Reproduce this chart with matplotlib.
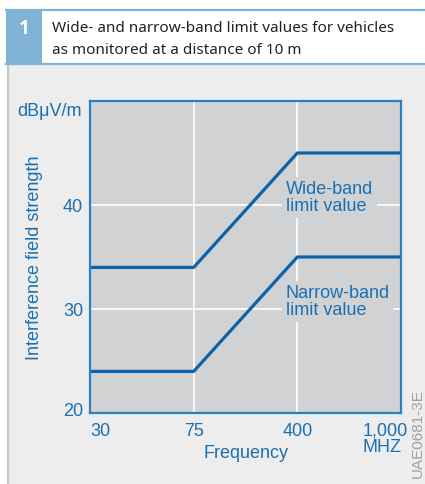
import matplotlib
matplotlib.use("Agg")
import matplotlib.pyplot as plt
from matplotlib.patches import Rectangle
from matplotlib.lines import Line2D
import matplotlib.transforms as mtransforms

# ---- data ----
freq_labels = ["30", "75", "400", "1,000"]
wide_band = [34, 34, 45, 45]
narrow_band = [24, 24, 35, 35]
y_ticks = [20, 30, 40]
y_limits = [20, 50]

title_num = "1"
title_text = "Wide- and narrow-band limit values for vehicles\nas monitored at a distance of 10 m"

W, H = 425, 484
fig = plt.figure(figsize=(W / 100, H / 100), dpi=100)
fig.patch.set_facecolor("white")

def fx(px):
    return px / W

def fy(py):
    return 1 - py / H

HEAD_BLUE = "#7fb2d5"
PANEL = "#ededed"
PLOT_BG = "#d1d2d4"
TXT = "#1a70b3"
LINE = "#0e63a8"
SPINE = "#2d80c0"

# panel background
fig.patches.append(Rectangle((fx(7), 0), 1 - fx(7), fy(65), transform=fig.transFigure,
                             facecolor=PANEL, edgecolor="none", zorder=-5))
# left gray border
fig.lines.append(Line2D([fx(7.5), fx(7.5)], [0, fy(65)], transform=fig.transFigure,
                        color="#c6c6c6", lw=1.6, zorder=-4))
# header lines
fig.lines.append(Line2D([fx(6), 1], [fy(9.5), fy(9.5)], transform=fig.transFigure,
                        color=HEAD_BLUE, lw=1.6, zorder=-4))
fig.lines.append(Line2D([fx(6), 1], [fy(64), fy(64)], transform=fig.transFigure,
                        color=HEAD_BLUE, lw=1.6, zorder=-4))
# number box
fig.patches.append(Rectangle((fx(6), fy(64)), fx(42) - fx(6), fy(9) - fy(64),
                             transform=fig.transFigure, facecolor=HEAD_BLUE,
                             edgecolor="none", zorder=-4))
fig.text(fx(24), fy(29), title_num, color="white", fontsize=13.5, fontweight="bold",
         ha="center", va="center", family="Open Sans")
fig.text(fx(52), fy(39.5), title_text, color="#222222", fontsize=11,
         ha="left", va="center", family="Noto Sans", linespacing=1.6)

# axes
ax = fig.add_axes([fx(90), fy(413), fx(401) - fx(90), fy(101) - fy(413)])
ax.set_zorder(2)
ax.set_facecolor(PLOT_BG)
x = list(range(len(freq_labels)))
ax.plot(x, wide_band, color=LINE, lw=2.3, zorder=3, solid_capstyle="butt")
ax.plot(x, narrow_band, color=LINE, lw=2.3, zorder=3, solid_capstyle="butt")
ax.set_xlim(x[0], x[-1])
ax.set_ylim(*y_limits)

for xv in x[1:-1]:
    ax.axvline(xv, color="white", lw=1.2, zorder=1)
for yv in y_ticks[1:]:
    ax.axhline(yv, color="white", lw=1.2, zorder=1)

for s in ax.spines.values():
    s.set_color(SPINE)
    s.set_linewidth(1.6)
    s.set_zorder(4)

FONT = "Liberation Sans"
FS = 13
ax.set_yticks(y_ticks)
ax.set_yticklabels([str(v) for v in y_ticks], fontsize=FS, color=TXT, family=FONT)
ax.set_xticks(x)
ax.set_xticklabels(freq_labels, fontsize=FS, color=TXT, family=FONT)
ax.tick_params(axis="both", length=0, pad=5)
ax.tick_params(axis="x", pad=7)
xl = ax.get_xticklabels()
xl[0].set_ha("left")
xl[-1].set_ha("right")
xl[-1].set_transform(xl[-1].get_transform() + mtransforms.ScaledTranslation(7 / 100, 0, fig.dpi_scale_trans))
yl = ax.get_yticklabels()
yl[0].set_transform(yl[0].get_transform() + mtransforms.ScaledTranslation(0, 4 / 100, fig.dpi_scale_trans))

bbox = dict(facecolor=PLOT_BG, edgecolor="none", pad=2.5)
ax.text(1.89, 40.7, "Wide-band\nlimit value", fontsize=FS, color=TXT, family=FONT,
        ha="left", va="center", linespacing=1.0, bbox=bbox, zorder=2)
ax.text(1.89, 30.7, "Narrow-band\nlimit value", fontsize=FS, color=TXT, family=FONT,
        ha="left", va="center", linespacing=1.0, bbox=bbox, zorder=2)

fig.text(fx(82), fy(111), "dBμV/m", fontsize=FS, color=TXT, family=FONT,
         ha="right", va="center")
fig.text(fx(35), fy(258), "Interference field strength", fontsize=FS, color=TXT,
         family=FONT, ha="center", va="center", rotation=90)
fig.text(fx(246), fy(453), "Frequency", fontsize=FS, color=TXT, family=FONT,
         ha="center", va="center")
fig.text(fx(402), fy(448), "MHZ", fontsize=FS, color=TXT, family=FONT,
         ha="right", va="center")
fig.text(fx(418), fy(434), "UAE0681-3E", fontsize=11, color="#a0a0a0", family=FONT,
         ha="center", va="center", rotation=90)

fig.savefig("out.png", dpi=100, facecolor=fig.get_facecolor())
